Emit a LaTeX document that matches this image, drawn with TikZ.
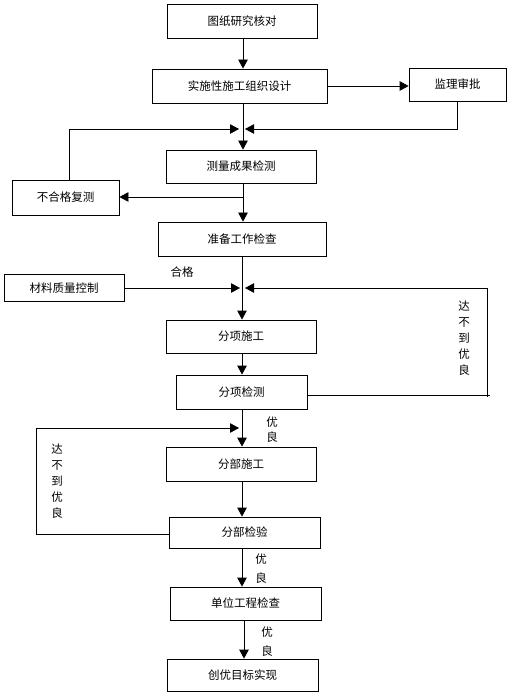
\documentclass[tikz,border=0pt]{standalone}
\usepackage{fontspec}
\setmainfont{Noto Sans CJK SC}
\usetikzlibrary{arrows.meta}
\begin{document}
\begin{tikzpicture}[x=1pt,y=-1pt,
  box/.style={draw,line width=0.8pt,inner sep=0pt,font=\fontsize{11.5}{13}\selectfont},
  conn/.style={line width=0.8pt},
  arr/.style={conn,-{Triangle[length=9pt,width=9.5pt]}},
  lbl/.style={font=\fontsize{11.5}{13}\selectfont,inner sep=0pt},
  vlbl/.style={font=\fontsize{11.5}{16}\selectfont,inner sep=0pt,align=center}]
\useasboundingbox (0,0) rectangle (523,700);
% boxes
\node[box,minimum width=150pt,minimum height=34pt] (b1) at (242,21) {图纸研究核对};
\node[box,minimum width=175pt,minimum height=34pt] (b2) at (239.5,86) {实施性施工组织设计};
\node[box,minimum width=97pt,minimum height=33pt] (b3) at (457.5,84.5) {监理审批};
\node[box,minimum width=150pt,minimum height=33pt] (b4) at (241,166.5) {测量成果检测};
\node[box,minimum width=107pt,minimum height=35pt] (bf) at (65.5,197.5) {不合格复测};
\node[box,minimum width=168pt,minimum height=34pt] (b5) at (242,239) {准备工作检查};
\node[box,minimum width=120pt,minimum height=27pt] (bm) at (64,288) {材料质量控制};
\node[box,minimum width=150pt,minimum height=33pt] (b6) at (241,336.5) {分项施工};
\node[box,minimum width=131pt,minimum height=34pt] (b7) at (241.5,392) {分项检测};
\node[box,minimum width=150pt,minimum height=34pt] (b8) at (241,464) {分部施工};
\node[box,minimum width=151pt,minimum height=31pt] (b9) at (244.5,532.5) {分部检验};
\node[box,minimum width=151pt,minimum height=33pt] (b10) at (245.5,603.5) {单位工程检查};
\node[box,minimum width=151pt,minimum height=32pt] (b11) at (242.5,675) {创优目标实现};
% labels
\node[lbl] (lhg) at (182,272) {合格};
\node[vlbl] (lr) at (464,338) {达\\不\\到\\优\\良};
\node[vlbl] (ll) at (57,481) {达\\不\\到\\优\\良};
\node[lbl] (y1a) at (272,422) {优};
\node[lbl] (y1b) at (272,437) {良};
\node[lbl] (y2a) at (261,559) {优};
\node[lbl] (y2b) at (261,578) {良};
\node[lbl] (y3a) at (267,632) {优};
\node[lbl] (y3b) at (267,651) {良};
% coordinates
\coordinate (m1) at (243,0);
\coordinate (j1l) at (239,129);
\coordinate (j1r) at (245,129);
\coordinate (f1) at (243,197);
\coordinate (j2l) at (240,288);
\coordinate (j2r) at (245,288);
\coordinate (rc) at (487,288);
\coordinate (rb) at (487,397);
\coordinate (re) at (490,395);
\coordinate (lt) at (239,428);
\coordinate (lc1) at (36,534);
\coordinate (lc2) at (36,428);
% connectors
\draw[arr] (b1.south -| m1) -- (b2.north -| m1);
\draw[arr] (b2.east) -- (b2.east -| b3.west);
\draw[arr] (b2.south -| m1) -- (b4.north -| m1);
\draw[arr] (b3.south) |- (j1r);
\draw[arr] (bf.north -| 69,0) |- (j1l);
\draw[arr] (b4.south -| m1) -- (b5.north -| m1);
\draw[arr] (f1) -- (f1 -| bf.east);
\draw[arr] (b5.south -| 242,0) -- (b6.north -| 242,0);
\draw[arr] (bm.east) -- (j2l);
\draw[arr] (rc) -- (j2r);
\draw[conn] (rc) -- (rb);
\draw[conn] (b7.east |- re) -- (re);
\draw[arr] (b6.south -| 242,0) -- (b7.north -| 242,0);
\draw[arr] (b7.south -| 242,0) -- (b8.north -| 242,0);
\draw[arr] (b9.west |- lc1) -- (lc1) -- (lc2) -- (lt);
\draw[arr] (b8.south -| 242,0) -- (b9.north -| 242,0);
\draw[arr] (b9.south -| 242,0) -- (b10.north -| 242,0);
\draw[arr] (b10.south -| 244,0) -- (b11.north -| 244,0);
\end{tikzpicture}
\end{document}
